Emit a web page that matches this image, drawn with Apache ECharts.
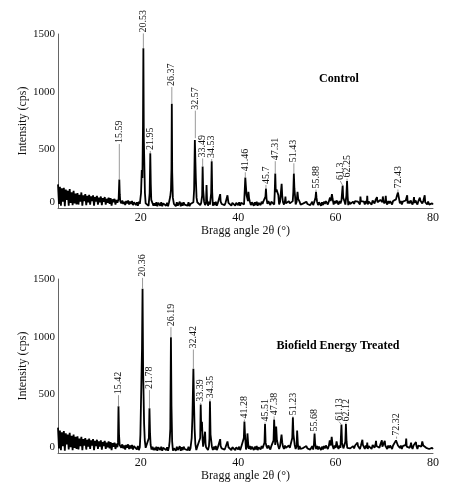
<!DOCTYPE html>
<html>
<head>
<meta charset="utf-8">
<script src="https://cdn.jsdelivr.net/npm/echarts@6/dist/echarts.min.js"></script>
<style>html,body{margin:0;padding:0;background:#fff}#c{width:460px;height:490px}</style>
</head>
<body>
<div id="c"></div>
<script>
// ---- Data ----
const bgStart = 3.0, bgStep = 0.2;   // background sampled every 0.2° from 3° to 80°
const controlBackground = [
195,25,175,10,160,45,165,5,150,60,140,10,155,35,125,15,140,30,115,20,
120,20,105,45,125,10,100,50,110,15,95,40,105,20,90,50,100,10,85,45,
95,20,80,40,90,15,75,45,85,20,70,35,80,25,75,10,65,40,70,20,
60,35,65,20,50,30,55,25,45,15,50,30,55,20,45,25,50,15,40,35,
15,40,10,45,25,15,40,10,45,5,30,40,15,10,40,25,15,45,10,30,
10,40,5,35,20,10,40,5,30,15,45,10,35,5,40,20,10,35,5,25,
35,5,40,10,25,45,5,35,10,40,20,5,35,10,40,5,25,35,10,40,
20,45,10,40,25,50,15,35,10,40,45,15,35,40,10,45,20,35,40,10,
40,15,45,10,30,40,15,45,25,10,40,15,35,45,10,35,20,40,10,35,
20,40,10,35,45,15,40,10,35,40,50,20,45,15,40,50,20,45,15,40,
30,10,40,15,45,10,35,40,15,45,25,50,35,15,45,25,50,40,15,45,
35,50,20,55,40,25,50,20,45,30,55,40,20,50,30,45,20,50,30,45,
30,50,40,55,20,45,30,15,45,20,35,10,30,40,15,45,25,10,40,15,
30,45,15,40,50,20,45,15,40,25,10,40,15,45,25,50,35,20,45,55,
50,30,45,20,50,30,55,40,20,50,30,55,40,25,50,20,45,30,15,45,
25,40,15,45,25,50,35,55,45,30,20,50,35,55,45,20,50,30,20,45,
35,50,20,55,40,30,60,45,40,55,30,60,45,40,55,30,50,40,20,50,
30,50,40,20,50,35,55,65,60,50,55,30,50,20,45,30,50,55,40,30,
50,30,55,40,20,50,35,55,45,20,50,35,55,40,30,50,55,40,30,20,
45,20,35,15,30,20
];
const treatedBackground = [
210,30,185,15,170,50,180,10,160,65,150,20,165,40,140,15,150,35,130,25,
135,20,115,50,130,15,110,55,120,20,105,45,115,25,100,55,110,15,95,50,
105,25,90,45,100,20,85,50,95,25,80,40,90,30,85,15,75,45,80,25,
70,40,75,25,60,35,65,30,55,20,60,35,65,25,55,30,60,20,50,40,
45,20,50,15,40,25,35,15,45,10,35,45,20,15,40,30,20,45,15,35,
15,45,10,40,25,15,45,10,35,20,50,15,40,10,45,25,15,40,10,30,
40,10,45,15,30,50,10,40,15,45,25,10,40,15,45,10,30,40,15,45,
25,50,15,45,30,55,20,40,15,45,50,20,40,45,15,50,25,40,45,15,
45,20,50,15,35,45,20,50,30,15,45,20,40,50,15,40,25,45,15,40,
25,45,15,40,50,20,45,15,40,45,55,25,50,20,45,55,25,50,20,45,
35,15,45,20,50,15,40,45,20,50,30,55,40,20,50,30,55,45,20,50,
40,55,25,60,45,30,55,25,50,35,60,45,25,55,35,50,25,55,35,50,
35,55,45,60,25,50,35,20,50,25,40,15,35,45,20,50,30,15,45,20,
35,50,20,45,55,25,50,20,45,30,15,45,20,50,30,55,40,25,50,60,
55,35,50,25,55,35,60,45,25,55,35,60,45,30,55,25,50,35,20,50,
30,45,20,50,30,55,40,60,50,35,25,55,40,60,50,25,55,35,25,50,
40,55,25,60,45,35,65,50,45,60,35,65,50,45,60,35,55,45,25,55,
35,55,45,25,55,40,60,70,65,55,60,35,55,25,50,35,55,60,45,35,
55,35,60,45,25,55,40,60,50,25,55,40,60,45,35,55,60,45,35,25,
50,25,40,20,35,25
];
// diffraction peaks as drawn in the picture: [2θ position on axis, intensity]
const controlPeaks = [
[15.45,70],[15.52,150],[15.59,237],[15.68,110],[15.78,50],
[20.05,120],[20.2,320],[20.33,250],[20.45,700],[20.53,1377],[20.62,600],[20.72,390],[20.85,120],
[21.82,120],[21.95,465],[22.05,200],[22.15,60],
[26.05,90],[26.2,150],[26.3,330],[26.37,895],[26.45,300],[26.58,80],
[30.95,150],[31.1,580],[31.2,596],[31.3,250],[31.45,80],
[32.6,100],[32.7,350],[32.8,150],
[33.5,190],[33.6,60],
[34.45,120],[34.56,395],[34.66,130],
[36.3,110],[37.8,100],
[41.35,150],[41.46,254],[41.58,180],[41.72,100],[42.1,130],[42.25,70],
[45.6,90],[45.7,158],[45.82,70],
[47.5,120],[47.61,290],[47.72,130],[47.88,150],[48.08,158],[48.25,100],
[48.92,200],[49.05,90],[49.7,90],
[51.32,130],[51.43,290],[51.54,160],[51.68,90],[52.18,130],[52.32,70],
[55.88,80],[55.98,130],[56.08,80],
[58.85,80],[59.25,110],[59.38,70],
[61.45,185],[61.56,80],
[62.22,100],[62.35,225],[62.48,90],
[65.1,90],[66.5,95],[68.5,85],[69.7,90],[70.3,95],
[72.62,100],[72.8,125],[72.97,110],
[74.7,100],[76.1,85],[77.3,80],[78.3,100]
];
const treatedPeaks = [
[15.32,80],[15.42,395],[15.53,150],[15.66,60],
[19.92,150],[20.1,560],[20.25,900],[20.36,1416],[20.48,700],[20.68,245],[20.82,100],
[21.66,120],[21.78,378],[21.9,160],[22.02,60],
[25.92,90],[26.06,200],[26.19,994],[26.3,400],[26.44,90],
[30.45,120],[30.6,300],[30.8,721],[30.92,440],[31.05,200],[31.2,70],
[32.2,120],[32.3,410],[32.42,180],[32.56,260],[32.7,100],
[33.2,175],[33.3,70],
[34.1,120],[34.2,440],[34.32,150],
[36.3,110],[37.8,90],
[41.16,120],[41.28,264],[41.4,150],[41.9,160],[42.05,70],
[45.4,80],[45.51,242],[45.63,80],
[47.26,100],[47.38,281],[47.5,150],[47.8,220],[47.95,100],
[48.9,150],[49.05,80],
[51.1,120],[51.23,299],[51.35,150],[52.1,185],[52.25,70],
[55.56,70],[55.68,158],[55.8,70],
[58.8,100],[59.2,130],[60.2,90],
[61.2,237],[61.32,80],
[62.0,90],[62.12,242],[62.25,90],
[64.5,80],[65.5,105],[66.5,80],[68.3,95],[69.5,100],[70.1,95],
[72.4,100],[72.52,114],[72.65,105],
[74.5,115],[75.5,80],[76.5,85],[77.8,90]
];
// peak labels: [peak 2θ, peak top, label 2θ, label base intensity]
const controlLabelPos = [
[15.59,237,15.59,545],[20.53,1377,20.53,1505],[21.95,465,21.95,485],[26.37,895,26.37,1040],
[31.2,596,31.2,835],[32.7,350,32.7,420],[34.56,395,34.56,415],[41.46,254,41.46,300],
[45.7,158,45.7,190],[47.61,290,47.61,396],[51.43,290,51.43,378],[55.98,130,55.98,150],
[61.45,185,60.95,225],[62.35,225,62.35,245],[72.8,125,72.8,150]
];
const controlLabelText = ['15.59','20.53','21.95','26.37','32.57','33.49','34.53','41.46','45.7','47.31','51.43','55.88','61.3','62.25','72.43'];
const treatedLabelPos = [
[15.42,395,15.42,492],[20.36,1416,20.36,1510],[21.78,378,21.78,536],[26.19,994,26.19,1082],
[30.8,721,30.8,888],[32.3,410,32.3,425],[34.2,440,34.2,457],[41.28,264,41.28,281],
[45.51,242,45.51,255],[47.38,281,47.38,308],[51.23,299,51.23,308],[55.68,158,55.68,167],
[61.2,237,60.7,262],[62.12,242,62.12,255],[72.52,114,72.52,132]
];
const treatedLabelText = ['15.42','20.36','21.78','26.19','32.42','33.39','34.35','41.28','45.51','47.38','51.23','55.68','61.13','62.12','72.32'];
const xTickLabels = [20,40,60,80];
const yTickLabels = [0,500,1000,1500];
const panelTitles = ['Control','Biofield Energy Treated'];

// ---- Build series data ----
function buildPattern(bg, peaks){
  const pts = [];
  bg.forEach((v,i)=>{
    const x = +(bgStart + i*bgStep).toFixed(1);
    if (!peaks.some(p=>Math.abs(p[0]-x)<0.08)) pts.push([x,v]);
  });
  peaks.forEach(p=>pts.push([p[0],p[1]]));
  pts.sort((a,b)=>a[0]-b[0]);
  return pts;
}
const FONT = '"Liberation Serif","Times New Roman",serif';
function labelSeries(pos, texts, idx){
  return {
    type:'custom', xAxisIndex:idx, yAxisIndex:idx, silent:true, clip:false, z:5,
    data: pos,
    encode:{x:[0,2], y:[1,3]},
    renderItem: function(params, api){
      const p1 = api.coord([api.value(0), api.value(1)]);
      const p2 = api.coord([api.value(2), api.value(3)]);
      return {type:'group', children:[
        {type:'line', shape:{x1:p1[0],y1:p1[1],x2:p2[0],y2:p2[1]}, style:{stroke:'#808080', lineWidth:0.8}},
        {type:'text', x:p2[0], y:p2[1]-1, rotation:Math.PI/2,
          style:{text:texts[params.dataIndex], fill:'#111', font:'10px '+FONT, textAlign:'left', textVerticalAlign:'middle'}}
      ]};
    }
  };
}
function mkX(idx){
  return {gridIndex:idx, type:'value', min:3, max:80,
    name:'Bragg angle 2θ (°)', nameLocation:'middle', nameGap:17, nameMoveOverlap:false,
    nameTextStyle:{fontFamily:FONT, fontSize:12, color:'#111'},
    axisLine:{show:true, onZero:false, lineStyle:{color:'#666', width:1}},
    axisTick:{show:false}, splitLine:{show:false},
    axisLabel:{customValues:xTickLabels, margin:4, fontFamily:FONT, fontSize:12, color:'#111'}};
}
function mkY(idx){
  return {gridIndex:idx, type:'value', min:-10, max:1500,
    name:'Intensity (cps)', nameLocation:'middle', nameGap:29, nameMoveOverlap:false,
    nameTextStyle:{fontFamily:FONT, fontSize:12, color:'#111'},
    axisLine:{show:true, lineStyle:{color:'#666', width:1}},
    axisTick:{show:false}, splitLine:{show:false},
    axisLabel:{customValues:yTickLabels, margin:3, fontFamily:FONT, fontSize:11, color:'#111',
      formatter: v => v === 0 ? '{z|0}' : String(v),
      rich:{z:{fontFamily:FONT, fontSize:11, color:'#111', padding:[0,0,10,0]}}}};
}
const chart = echarts.init(document.getElementById('c'), null, {renderer:'canvas'});
chart.setOption({
  animation:false,
  backgroundColor:'#fff',
  grid:[{left:58, right:27, top:34, height:174},{left:58, right:27, top:279, height:174}],
  xAxis:[mkX(0), mkX(1)],
  yAxis:[mkY(0), mkY(1)],
  graphic:[
    {type:'text', x:339, y:79, style:{text:panelTitles[0], font:'bold 12px '+FONT, fill:'#000', textAlign:'center', textVerticalAlign:'middle'}},
    {type:'text', x:338, y:346, style:{text:panelTitles[1], font:'bold 12px '+FONT, fill:'#000', textAlign:'center', textVerticalAlign:'middle'}}
  ],
  series:[
    {type:'line', xAxisIndex:0, yAxisIndex:0, data:buildPattern(controlBackground, controlPeaks),
      showSymbol:false, lineStyle:{color:'#000', width:1.8}, silent:true, z:3},
    {type:'line', xAxisIndex:1, yAxisIndex:1, data:buildPattern(treatedBackground, treatedPeaks),
      showSymbol:false, lineStyle:{color:'#000', width:1.8}, silent:true, z:3},
    labelSeries(controlLabelPos, controlLabelText, 0),
    labelSeries(treatedLabelPos, treatedLabelText, 1)
  ]
});
</script>
</body>
</html>
